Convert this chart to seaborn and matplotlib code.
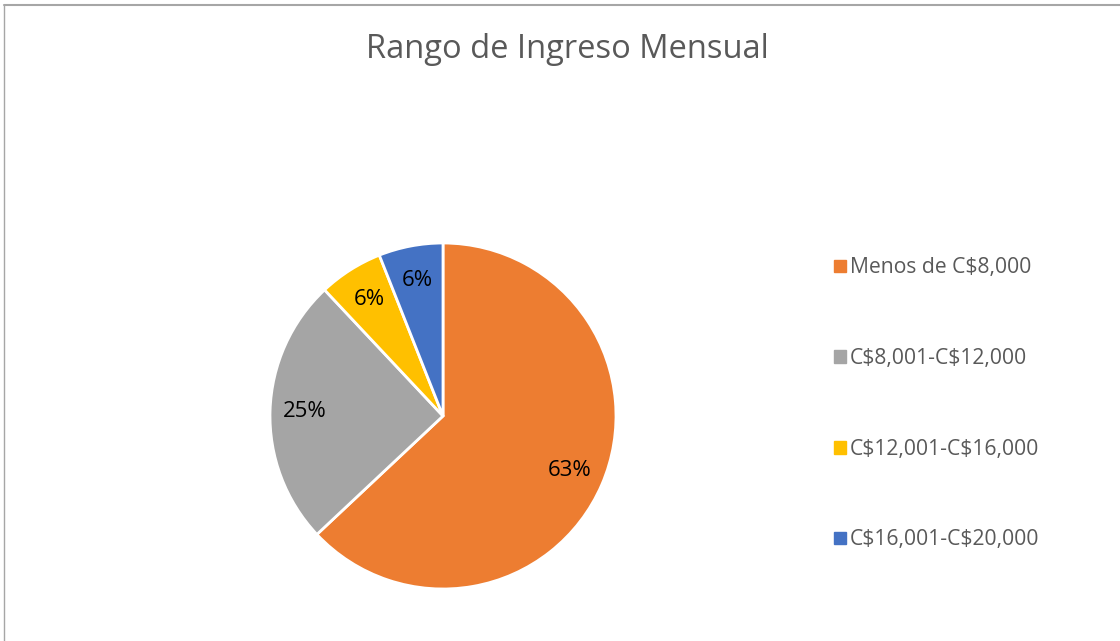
#!/usr/bin/env python3
"""Pie chart: Rango de Ingreso Mensual -> out.png"""

import matplotlib.pyplot as plt
import seaborn as sns
from matplotlib.lines import Line2D

categories = ["Menos de C$8,000", "C$8,001-C$12,000", "C$12,001-C$16,000", "C$16,001-C$20,000"]
shares = [63, 25, 6, 6]
colors = ["#ED7D31", "#A5A5A5", "#FFC000", "#4472C4"]

sns.set_theme(style="white")
plt.rcParams["font.family"] = ["Open Sans", "DejaVu Sans"]
plt.rcParams["text.parse_math"] = False

W, H = 1120, 641
fig = plt.figure(figsize=(W / 100, H / 100), dpi=100)

# pie centred at (443, 416) px, radius 173 px
cx, cy, r = 443, 416, 173
ax = fig.add_axes([(cx - r) / W, (H - cy - r) / H, 2 * r / W, 2 * r / H])
palette = sns.color_palette(colors)
wedges, _, autotexts = ax.pie(
    shares,
    colors=palette,
    startangle=90,
    counterclock=False,
    autopct="%1.0f%%",
    pctdistance=0.8,
    wedgeprops=dict(edgecolor="white", linewidth=2),
    textprops=dict(fontsize=16, color="black"),
)
ax.set_xlim(-1, 1)
ax.set_ylim(-1, 1)
ax.set_aspect("equal")

fig.text(567 / W, 1 - 50 / H, "Rango de Ingreso Mensual", ha="center", va="center",
         fontsize=23.5, color="#595959")

handles = [plt.Rectangle((0, 0), 1, 1, color=c) for c in colors]
fig.legend(
    handles, categories,
    loc="center left", bbox_to_anchor=(815 / W, 1 - 404 / H),
    frameon=False, fontsize=15.2, labelcolor="#595959",
    handlelength=0.55, handleheight=0.55, handletextpad=0.2,
    labelspacing=3.3,
)

# chart frame (top and left edges only visible)
fig.add_artist(Line2D([4 / W, 1], [1 - 5 / H, 1 - 5 / H], color="#A6A6A6", lw=1.5))
fig.add_artist(Line2D([4 / W, 4 / W], [0, 1 - 5 / H], color="#A6A6A6", lw=1))

fig.savefig("out.png", dpi=100, facecolor="white")
